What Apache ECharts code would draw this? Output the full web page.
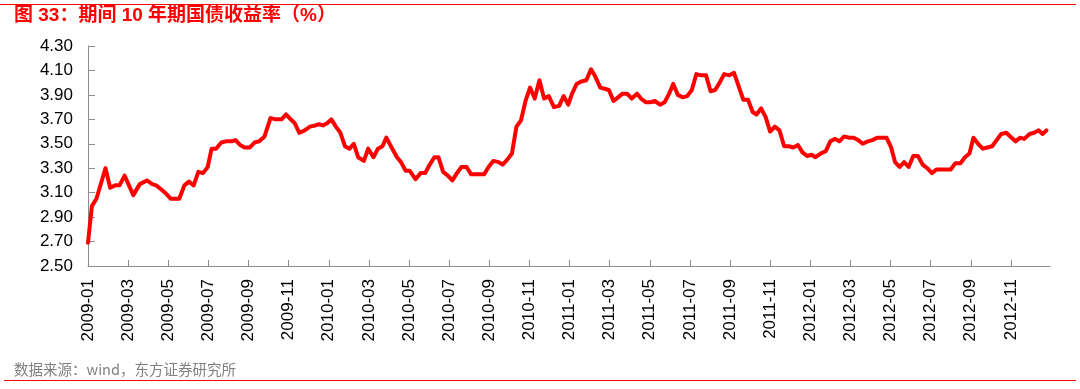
<!DOCTYPE html>
<html>
<head>
<meta charset="utf-8">
<script src="https://cdn.jsdelivr.net/npm/echarts@6/dist/echarts.min.js"></script>
<style>
html,body{margin:0;padding:0;background:#fff;}
#chart{width:1080px;height:389px;}
</style>
</head>
<body>
<div id="chart"></div>
<script>
const titleText = '图 33：期间 10 年期国债收益率（%）';
const sourceText = '数据来源：wind，东方证券研究所';
const startYear = 2009;
const yTickMin = 2.5, yTickMax = 4.3, yTickStep = 0.2;
const xMonthsSpan = 48, xTickStepMonths = 2;

const dates = [
'2009-01-01','2009-01-07','2009-01-14','2009-01-28','2009-02-04','2009-02-11','2009-02-17','2009-02-24',
'2009-03-09','2009-03-19','2009-03-30','2009-04-07','2009-04-13','2009-04-22','2009-04-28',
'2009-05-05','2009-05-12','2009-05-18','2009-05-26','2009-06-02','2009-06-09','2009-06-16','2009-06-23','2009-06-30',
'2009-07-06','2009-07-13','2009-07-21','2009-07-28','2009-08-06','2009-08-12','2009-08-19','2009-08-26',
'2009-09-03','2009-09-10','2009-09-17','2009-09-25','2009-10-04','2009-10-12','2009-10-21','2009-10-28',
'2009-11-04','2009-11-10','2009-11-17','2009-11-25','2009-12-03','2009-12-11','2009-12-17','2009-12-23','2009-12-30',
'2010-01-05','2010-01-12','2010-01-19','2010-01-26','2010-02-02','2010-02-08','2010-02-14','2010-02-22','2010-02-28',
'2010-03-08','2010-03-15','2010-03-22','2010-03-28','2010-04-05','2010-04-13','2010-04-19','2010-04-26',
'2010-05-02','2010-05-11','2010-05-19','2010-05-26','2010-06-02','2010-06-09','2010-06-15','2010-06-22','2010-06-29',
'2010-07-06','2010-07-13','2010-07-20','2010-07-28','2010-08-04','2010-08-11','2010-08-18','2010-08-24','2010-08-31',
'2010-09-07','2010-09-15','2010-09-21','2010-09-28','2010-10-05','2010-10-12','2010-10-19','2010-10-26',
'2010-11-02','2010-11-09','2010-11-16','2010-11-23','2010-11-30','2010-12-08','2010-12-16','2010-12-23','2010-12-30',
'2011-01-05','2011-01-12','2011-01-19','2011-01-27','2011-02-03','2011-02-09','2011-02-16','2011-02-22','2011-02-28',
'2011-03-07','2011-03-14','2011-03-21','2011-03-28','2011-04-04','2011-04-12','2011-04-18','2011-04-25',
'2011-05-02','2011-05-09','2011-05-17','2011-05-24','2011-05-31','2011-06-06','2011-06-13','2011-06-20','2011-06-27',
'2011-07-04','2011-07-11','2011-07-18','2011-07-26','2011-08-02','2011-08-09','2011-08-16','2011-08-23','2011-08-31',
'2011-09-07','2011-09-14','2011-09-21','2011-09-28','2011-10-05','2011-10-11','2011-10-18','2011-10-25',
'2011-11-01','2011-11-08','2011-11-15','2011-11-22','2011-11-29','2011-12-06','2011-12-13','2011-12-20','2011-12-27',
'2012-01-03','2012-01-09','2012-01-17','2012-01-25','2012-02-01','2012-02-08','2012-02-14','2012-02-21','2012-02-28',
'2012-03-06','2012-03-13','2012-03-20','2012-03-28','2012-04-04','2012-04-11','2012-04-18','2012-04-25',
'2012-05-02','2012-05-08','2012-05-15','2012-05-22','2012-05-29','2012-06-05','2012-06-12','2012-06-19','2012-06-26',
'2012-07-03','2012-07-10','2012-07-18','2012-07-25','2012-08-01','2012-08-08','2012-08-16','2012-08-23','2012-08-30',
'2012-09-05','2012-09-12','2012-09-19','2012-09-26','2012-10-03','2012-10-10','2012-10-17','2012-10-25','2012-10-31',
'2012-11-08','2012-11-15','2012-11-21','2012-11-29','2012-12-06','2012-12-13','2012-12-19','2012-12-25'
];

const yields = [
2.69,2.99,3.05,3.30,3.14,3.16,3.16,3.24,
3.08,3.17,3.20,3.17,3.16,3.12,3.09,
3.05,3.05,3.05,3.16,3.19,3.16,3.27,3.26,3.31,
3.46,3.46,3.51,3.52,3.52,3.53,3.49,3.47,
3.47,3.51,3.52,3.56,3.71,3.70,3.70,3.74,
3.70,3.67,3.59,3.61,3.64,3.65,3.66,3.65,3.67,
3.70,3.64,3.59,3.48,3.46,3.50,3.39,3.36,3.46,
3.39,3.46,3.48,3.55,3.47,3.39,3.35,3.28,
3.28,3.21,3.26,3.26,3.33,3.39,3.39,3.27,3.24,
3.20,3.26,3.31,3.31,3.25,3.25,3.25,3.25,3.31,
3.36,3.35,3.33,3.37,3.42,3.64,3.69,3.85,
3.96,3.87,4.02,3.87,3.89,3.80,3.81,3.89,3.82,
3.91,3.99,4.01,4.02,4.11,4.05,3.96,3.95,3.94,
3.85,3.88,3.91,3.91,3.87,3.91,3.87,3.84,
3.84,3.85,3.82,3.84,3.91,3.99,3.90,3.88,3.89,
3.94,4.07,4.06,4.06,3.93,3.94,4.00,4.07,4.06,
4.08,3.97,3.86,3.86,3.76,3.74,3.79,3.72,
3.60,3.64,3.61,3.48,3.48,3.47,3.49,3.43,3.40,
3.41,3.39,3.42,3.44,3.52,3.54,3.52,3.56,3.55,
3.55,3.53,3.50,3.52,3.53,3.55,3.55,3.55,
3.47,3.35,3.31,3.35,3.31,3.40,3.40,3.33,3.30,
3.26,3.29,3.29,3.29,3.29,3.34,3.34,3.39,3.42,
3.55,3.50,3.46,3.47,3.48,3.53,3.58,3.59,3.56,
3.52,3.55,3.54,3.58,3.59,3.61,3.58,3.61
];

function monthIndex(s) {
  const p = s.split('-').map(Number);
  const dim = new Date(p[0], p[1], 0).getDate();
  return (p[0] - startYear) * 12 + (p[1] - 1) + (p[2] - 1) / dim;
}
const seriesData = dates.map((d, i) => [monthIndex(d), +(yields[i] - yTickMin).toFixed(4)]);

const chart = echarts.init(document.getElementById('chart'), null, {renderer: 'canvas'});
const axisGray = '#8c8c8c';
chart.setOption({
  animation: false,
  backgroundColor: '#ffffff',
  grid: {left: 88, right: 30, top: 46, bottom: 123, containLabel: false},
  graphic: [
    {type: 'line', shape: {x1: 0, y1: 4.5, x2: 1076, y2: 4.5}, style: {stroke: '#ff0000', lineWidth: 1}},
    {type: 'line', shape: {x1: 4, y1: 380.5, x2: 1076, y2: 380.5}, style: {stroke: '#ff0000', lineWidth: 1}},
    {type: 'text', left: 14, top: 6, style: {text: titleText, fill: '#ff0000', font: 'bold 19px "Liberation Sans", "Noto Sans CJK SC", sans-serif'}},
    {type: 'text', left: 14, top: 362, style: {text: sourceText, fill: '#808080', font: '14.5px "Noto Sans CJK SC", sans-serif'}}
  ],
  xAxis: {
    type: 'value',
    min: 0,
    max: xMonthsSpan - 0.05,
    interval: xTickStepMonths,
    axisLine: {show: true, lineStyle: {color: axisGray, width: 1}},
    axisTick: {show: true, inside: true, length: 6, lineStyle: {color: axisGray}},
    splitLine: {show: false},
    axisLabel: {
      rotate: 90,
      margin: 13,
      color: '#000',
      fontSize: 17,
      fontFamily: '"Liberation Sans", Arial, sans-serif',
      showMaxLabel: false,
      formatter: function (v) {
        const k = Math.round(v);
        const y = startYear + Math.floor(k / 12);
        const m = (k % 12) + 1;
        return y + '-' + (m < 10 ? '0' + m : m);
      }
    }
  },
  yAxis: {
    type: 'value',
    min: 0,
    max: +(yTickMax - yTickMin).toFixed(2),
    interval: yTickStep,
    axisLine: {show: true, lineStyle: {color: axisGray, width: 1}},
    axisTick: {show: true, inside: true, length: 7, lineStyle: {color: axisGray}},
    splitLine: {show: false},
    axisLabel: {
      margin: 15,
      color: '#000',
      fontSize: 17,
      fontFamily: '"Liberation Sans", Arial, sans-serif',
      formatter: function (v) { return (v + yTickMin).toFixed(2); }
    }
  },
  series: [{
    type: 'line',
    data: seriesData,
    showSymbol: false,
    symbol: 'none',
    smooth: false,
    lineStyle: {color: '#ff0000', width: 4, join: 'round', cap: 'round'},
    itemStyle: {color: '#ff0000'}
  }]
});
</script>
</body>
</html>
